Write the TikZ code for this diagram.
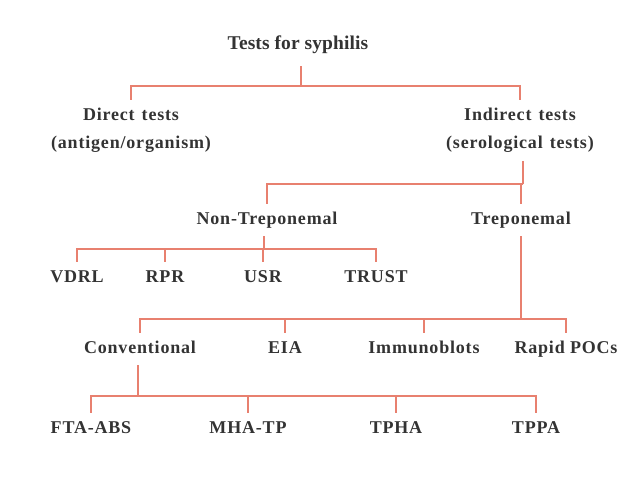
\documentclass[tikz,border=0pt]{standalone}
\usepackage{fontspec}
\setmainfont{Liberation Serif}[LetterSpace=4.5]
\usepackage{tikz}

\definecolor{linkred}{HTML}{E8806F}
\definecolor{textgray}{HTML}{333333}
\newcommand{\widewords}{\spaceskip=7pt\relax}

\tikzstyle{link} = [draw=linkred, line width=1.6pt]
\tikzstyle{heading} = [anchor=base, inner sep=13pt, text=textgray, font=\fontsize{19.5}{23}\selectfont\bfseries\addfontfeature{LetterSpace=0.5}]
\tikzstyle{group} = [anchor=north, inner sep=8pt, align=center, text=textgray, font=\fontsize{18}{28}\selectfont\bfseries\widewords]
\tikzstyle{test} = [anchor=north, inner sep=8pt, text height=12pt, text depth=4pt, text=textgray, font=\fontsize{18}{20}\selectfont\bfseries]

\begin{document}
\begin{tikzpicture}[x=1pt, y=-1pt]
  \useasboundingbox (0,0) rectangle (638,479);

  % junctions of the bars
  \coordinate (j0) at (301,86);
  \coordinate (j1) at (523,184);
  \coordinate (j2) at (264,249);
  \coordinate (j3) at (521,319);
  \coordinate (j4) at (138,396);

  \node (title) [heading] at (298,49) {Tests for syphilis};

  \node (direct) [group] at (131,100) {Direct tests\\(antigen/organism)};
  \node (indirect) [group] at (520,100) {Indirect tests\\(serological tests)};

  \node (nontrep) [test] at (267,204) {Non-Treponemal};
  \node (trep) [test] at (521,204) {Treponemal};

  \node (vdrl) [test] at (77,262) {VDRL};
  \node (rpr) [test] at (165,262) {RPR};
  \node (usr) [test] at (263,262) {USR};
  \node (trust) [test] at (376,262) {TRUST};

  \node (conv) [test] at (140,333) {Conventional};
  \node (eia) [test] at (285,333) {EIA};
  \node (immuno) [test] at (424,333) {Immunoblots};
  \node (rapid) [test] at (566,333) {Rapid POCs};

  \node (fta) [test] at (91,413) {FTA-ABS};
  \node (mha) [test] at (248,413) {MHA-TP};
  \node (tpha) [test] at (396,413) {TPHA};
  \node (tppa) [test] at (536,413) {TPPA};

  \draw [link] (j0 |- title.south) -- (j0);
  \foreach \c in {direct, indirect}
    \draw [link] (j0) -| (\c.north);

  \draw [link] (j1 |- indirect.south) -- (j1);
  \foreach \c in {nontrep, trep}
    \draw [link] (j1) -| (\c.north);

  \draw [link] (j2 |- nontrep.south) -- (j2);
  \foreach \c in {vdrl, rpr, usr, trust}
    \draw [link] (j2) -| (\c.north);

  \draw [link] (j3 |- trep.south) -- (j3);
  \foreach \c in {conv, eia, immuno, rapid}
    \draw [link] (j3) -| (\c.north);

  \draw [link] (j4 |- conv.south) -- (j4);
  \foreach \c in {fta, mha, tpha, tppa}
    \draw [link] (j4) -| (\c.north);
\end{tikzpicture}
\end{document}
